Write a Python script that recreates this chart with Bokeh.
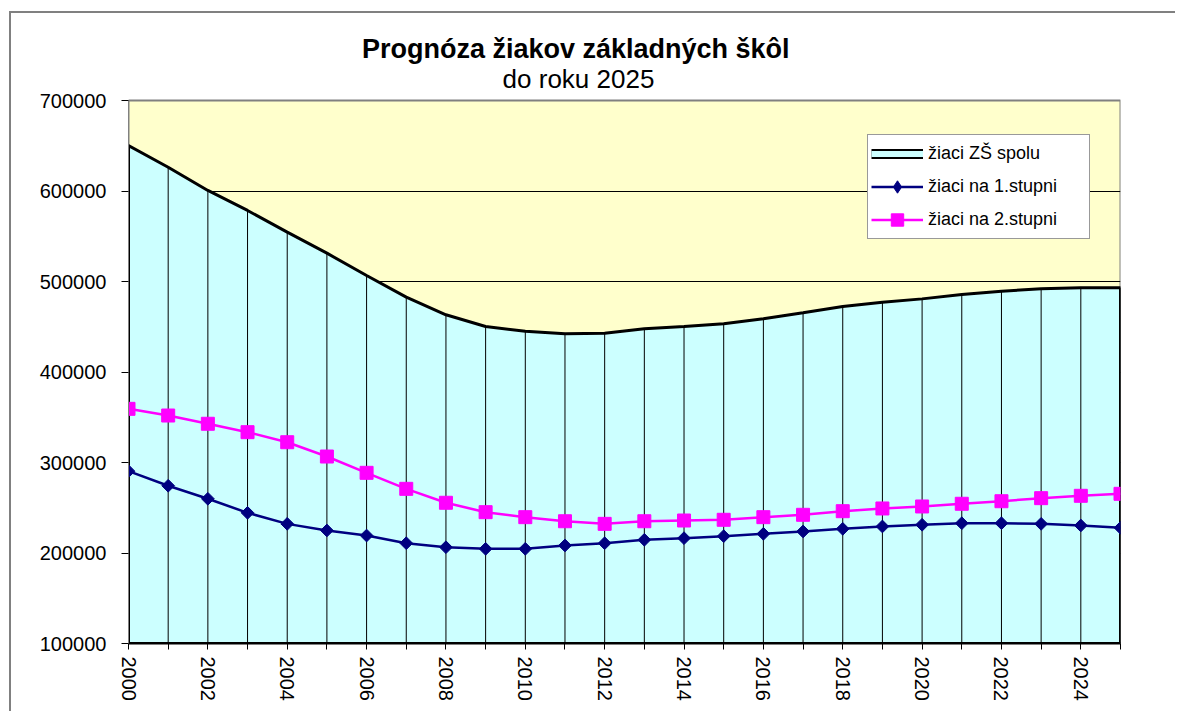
import numpy as np
from bokeh.plotting import figure
from bokeh.models import (Range1d, FixedTicker, Label, Legend, LegendItem, NumeralTickFormatter)
from bokeh.embed import file_html
from bokeh.resources import INLINE

# ---- data ----
years = list(range(2000, 2026))
total = [650300, 626300, 600600, 578500, 554500, 531300, 506600, 482700, 463200, 450300,
         445000, 442200, 442900, 447700, 450300, 453200, 458800, 465400, 472400, 477100,
         480800, 485600, 489300, 491900, 493000, 493000]
stage1 = [290400, 274300, 259900, 244400, 232200, 224900, 219300, 210800, 206400, 204600,
          204600, 208300, 210800, 214600, 216400, 218600, 221200, 223800, 226700, 229300,
          231200, 232900, 232900, 232200, 230400, 227800]
stage2 = [359300, 351900, 342800, 333500, 322400, 306600, 288600, 270900, 255500, 245100,
          239600, 235100, 232200, 235100, 235900, 236700, 239600, 242200, 246200, 249200,
          251400, 254400, 257200, 260600, 263200, 265400]
y_ticks = [100000, 200000, 300000, 400000, 500000, 600000, 700000]
x_label_ticks = list(range(2000, 2025, 2))
x_minor_ticks = list(range(2001, 2026, 2))
title_text = "Prognóza žiakov  základných škôl"
subtitle_text = "do roku 2025"
legend_labels = ["žiaci ZŠ spolu", "žiaci na 1.stupni", "žiaci na 2.stupni"]

FONT = "Liberation Sans"
base = y_ticks[0]

# layout (pixels): plot area 543 px tall for the value axis, 87 px of title room above it
AREA_PX = 543
TITLE_PX = 87
y_top = y_ticks[-1] + TITLE_PX * (y_ticks[-1] - y_ticks[0]) / AREA_PX

p = figure(width=1166, height=700, output_backend="svg", toolbar_location=None, title=None,
           x_range=Range1d(years[0], years[-1]), y_range=Range1d(y_ticks[0], y_top))
p.min_border_left = 117
p.min_border_top = 0
p.min_border_right = 57
p.min_border_bottom = 70
p.background_fill_color = "white"
p.border_fill_color = "white"
p.outline_line_color = None
p.styles = {"border-left": "2px solid #808080", "border-top": "2px solid #808080",
            "margin-left": "9px", "margin-top": "11px"}

# plot-area background (yellow) with grey border
p.quad(left=[years[0]], right=[years[-1]], bottom=[y_ticks[0]], top=[y_ticks[-1]],
       fill_color="#FFFFCC", line_color="#808080", line_width=2, level="image")

# grid
p.xgrid.visible = False
p.ygrid.ticker = FixedTicker(ticks=y_ticks[1:-1])
p.ygrid.grid_line_color = "black"
p.ygrid.grid_line_width = 1

# area (total)
area_x = years + [years[-1], years[0]]
area_y = total + [base, base]
area = p.patch(area_x, area_y, fill_color="#CCFFFF", line_color="black", line_width=3)

# drop lines
p.segment(x0=years, y0=[base] * len(years), x1=years, y1=total, line_color="black", line_width=1)

# stage 1
l1 = p.line(years, stage1, line_color="#000080", line_width=2.5)
p.scatter(years, stage1, marker="square", angle=np.pi / 4, size=9,
          fill_color="#000080", line_color="#000080")
# stage 2
l2 = p.line(years, stage2, line_color="#FF00FF", line_width=2.5)
m2 = p.scatter(years, stage2, marker="square", size=13,
               fill_color="#FF00FF", line_color="#FF00FF")

# legend-only swatches (no visible data)
sw_border = p.line(x=[np.nan], y=[np.nan], line_color="black", line_width=10)
sw_fill = p.line(x=[np.nan], y=[np.nan], line_color="#CCFFFF", line_width=6)
m1_leg = p.scatter(x=[np.nan], y=[np.nan], marker="diamond", size=14,
                   fill_color="#000080", line_color="#000080")

# axes
p.yaxis.ticker = FixedTicker(ticks=y_ticks)
p.yaxis.bounds = (y_ticks[0], y_ticks[-1])
p.yaxis.formatter = NumeralTickFormatter(format="0")
p.yaxis.major_tick_out = 7
p.yaxis.major_tick_in = 0
p.yaxis.minor_tick_out = 0
p.yaxis.minor_tick_in = 0
p.yaxis.major_label_standoff = 15
p.yaxis.major_label_text_font = FONT
p.yaxis.major_label_text_font_size = "20px"
p.yaxis.major_label_text_color = "black"
p.yaxis.axis_line_color = "#808080"
p.yaxis.major_tick_line_color = "black"

p.xaxis.ticker = FixedTicker(ticks=x_label_ticks, minor_ticks=x_minor_ticks)
p.xaxis.major_tick_out = 6
p.xaxis.major_tick_in = 0
p.xaxis.minor_tick_out = 6
p.xaxis.minor_tick_in = 0
p.xaxis.minor_tick_line_color = "black"
p.xaxis.major_tick_line_color = "black"
p.xaxis.major_label_orientation = "vertical"
p.xaxis.major_label_standoff = 7
p.xaxis.major_label_text_font = FONT
p.xaxis.major_label_text_font_size = "20px"
p.xaxis.major_label_text_color = "black"
p.xaxis.axis_line_color = "black"
p.xaxis.axis_line_width = 2

# titles (screen units from the frame's bottom-left)
p.add_layout(Label(x=451, y=595, x_units="screen", y_units="screen", text=title_text,
                   text_font=FONT, text_font_size="27px", text_font_style="bold",
                   text_align="center", text_baseline="middle", text_color="black"))
p.add_layout(Label(x=450, y=565, x_units="screen", y_units="screen", text=subtitle_text,
                   text_font=FONT, text_font_size="26px", text_font_style="normal",
                   text_align="center", text_baseline="middle", text_color="black"))

legend = Legend(items=[LegendItem(label=legend_labels[0], renderers=[sw_border, sw_fill]),
                       LegendItem(label=legend_labels[1], renderers=[l1, m1_leg]),
                       LegendItem(label=legend_labels[2], renderers=[l2, m2])],
                location=(739, 404), orientation="vertical",
                padding=3, spacing=2, glyph_width=52, glyph_height=31, label_height=20,
                label_standoff=5, label_width=158,
                label_text_font=FONT, label_text_font_size="18px", label_text_color="black",
                border_line_color="#333333", border_line_width=1,
                background_fill_color="white", background_fill_alpha=1.0)
p.add_layout(legend, "center")

open("out.html", "w").write(file_html(p, INLINE))
